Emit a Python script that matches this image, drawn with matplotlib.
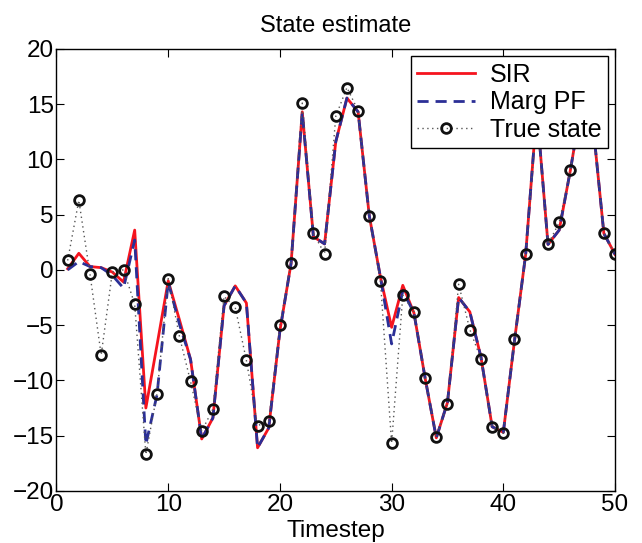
import matplotlib
matplotlib.use("Agg")
import matplotlib.pyplot as plt
import numpy as np

plt.rcParams['font.family'] = ['Liberation Sans', 'DejaVu Sans']

timesteps = list(range(1, 51))
true_state = [0.85, 6.3, -0.4, -7.7, -0.2, 0.0, -3.1, -16.7, -11.2, -0.8,
              -6.0, -10.1, -14.6, -12.6, -2.4, -3.4, -8.2, -14.1, -13.7, -5.0,
              0.65, 15.1, 3.3, 1.45, 13.9, 16.5, 14.4, 4.85, -1.0, -15.7,
              -2.3, -3.8, -9.8, -15.1, -12.1, -1.3, -5.4, -8.1, -14.2, -14.8,
              -6.3, 1.4, 14.0, 2.3, 4.3, 9.0, 15.0, 13.4, 3.3, 1.4]
sir = [0.1, 1.5, 0.3, 0.2, -0.2, -1.1, 3.6, -12.5, -6.8, -1.0,
       -4.5, -8.1, -15.3, -13.4, -3.25, -1.45, -3.0, -16.1, -14.3, -5.5,
       0.6, 14.3, 3.0, 2.35, 11.6, 15.55, 14.3, 4.9, -0.67, -5.2,
       -1.4, -3.9, -9.8, -15.2, -12.0, -2.5, -3.8, -7.9, -14.2, -14.7,
       -6.4, 1.4, 14.5, 2.3, 3.6, 9.0, 15.0, 13.4, 3.3, 1.4]
marg_pf = [0.0, 0.75, 0.3, 0.2, -0.5, -1.65, 2.7, -15.8, -11.3, -1.1,
           -4.9, -8.1, -15.3, -13.4, -3.25, -1.45, -3.0, -16.1, -14.3, -5.5,
           0.6, 14.3, 3.0, 2.35, 11.6, 15.55, 14.3, 4.9, -0.67, -6.7,
           -1.9, -3.9, -9.8, -15.2, -12.0, -2.5, -3.8, -7.9, -14.2, -14.7,
           -6.4, 1.4, 14.5, 2.3, 3.6, 9.0, 15.0, 13.4, 3.3, 1.4]

fig = plt.figure(figsize=(6.42, 5.43), dpi=100)
ax = fig.add_axes([0.088, 0.096, 0.870, 0.814])

ax.plot(timesteps, sir, color='#f5141e', lw=2.0, label='SIR')
ax.plot(timesteps, marg_pf, color='#2b2f96', lw=2.0, ls=(0, (4, 2.5)), label='Marg PF')
ax.plot(timesteps, true_state, color='#555555', lw=1.0, ls=(0, (1, 2.5)), marker='o',
        markersize=7, markerfacecolor='none', markeredgecolor='#111111',
        markeredgewidth=2.0, label='True state')

ax.set_xlim(0, 50)
ax.set_ylim(-20, 20)
ax.set_xticks([0, 10, 20, 30, 40, 50])
ax.set_yticks([-20, -15, -10, -5, 0, 5, 10, 15, 20])
ax.tick_params(direction='in', length=6, width=0.8, labelsize=17.5, top=True, right=True, pad=2)
for s in ax.spines.values():
    s.set_linewidth(1.0)
ax.set_xlabel('Timestep', fontsize=17.5, labelpad=3)
ax.set_title('State estimate', fontsize=17, pad=12)

leg = ax.legend(loc='upper right', fontsize=18, frameon=True, fancybox=False,
                edgecolor='black', borderaxespad=0.3, handlelength=2.3,
                borderpad=0.25, labelspacing=0.15, handletextpad=0.6)
leg.get_frame().set_linewidth(1.0)
leg.get_frame().set_alpha(1.0)

fig.savefig('out.png', dpi=100)
